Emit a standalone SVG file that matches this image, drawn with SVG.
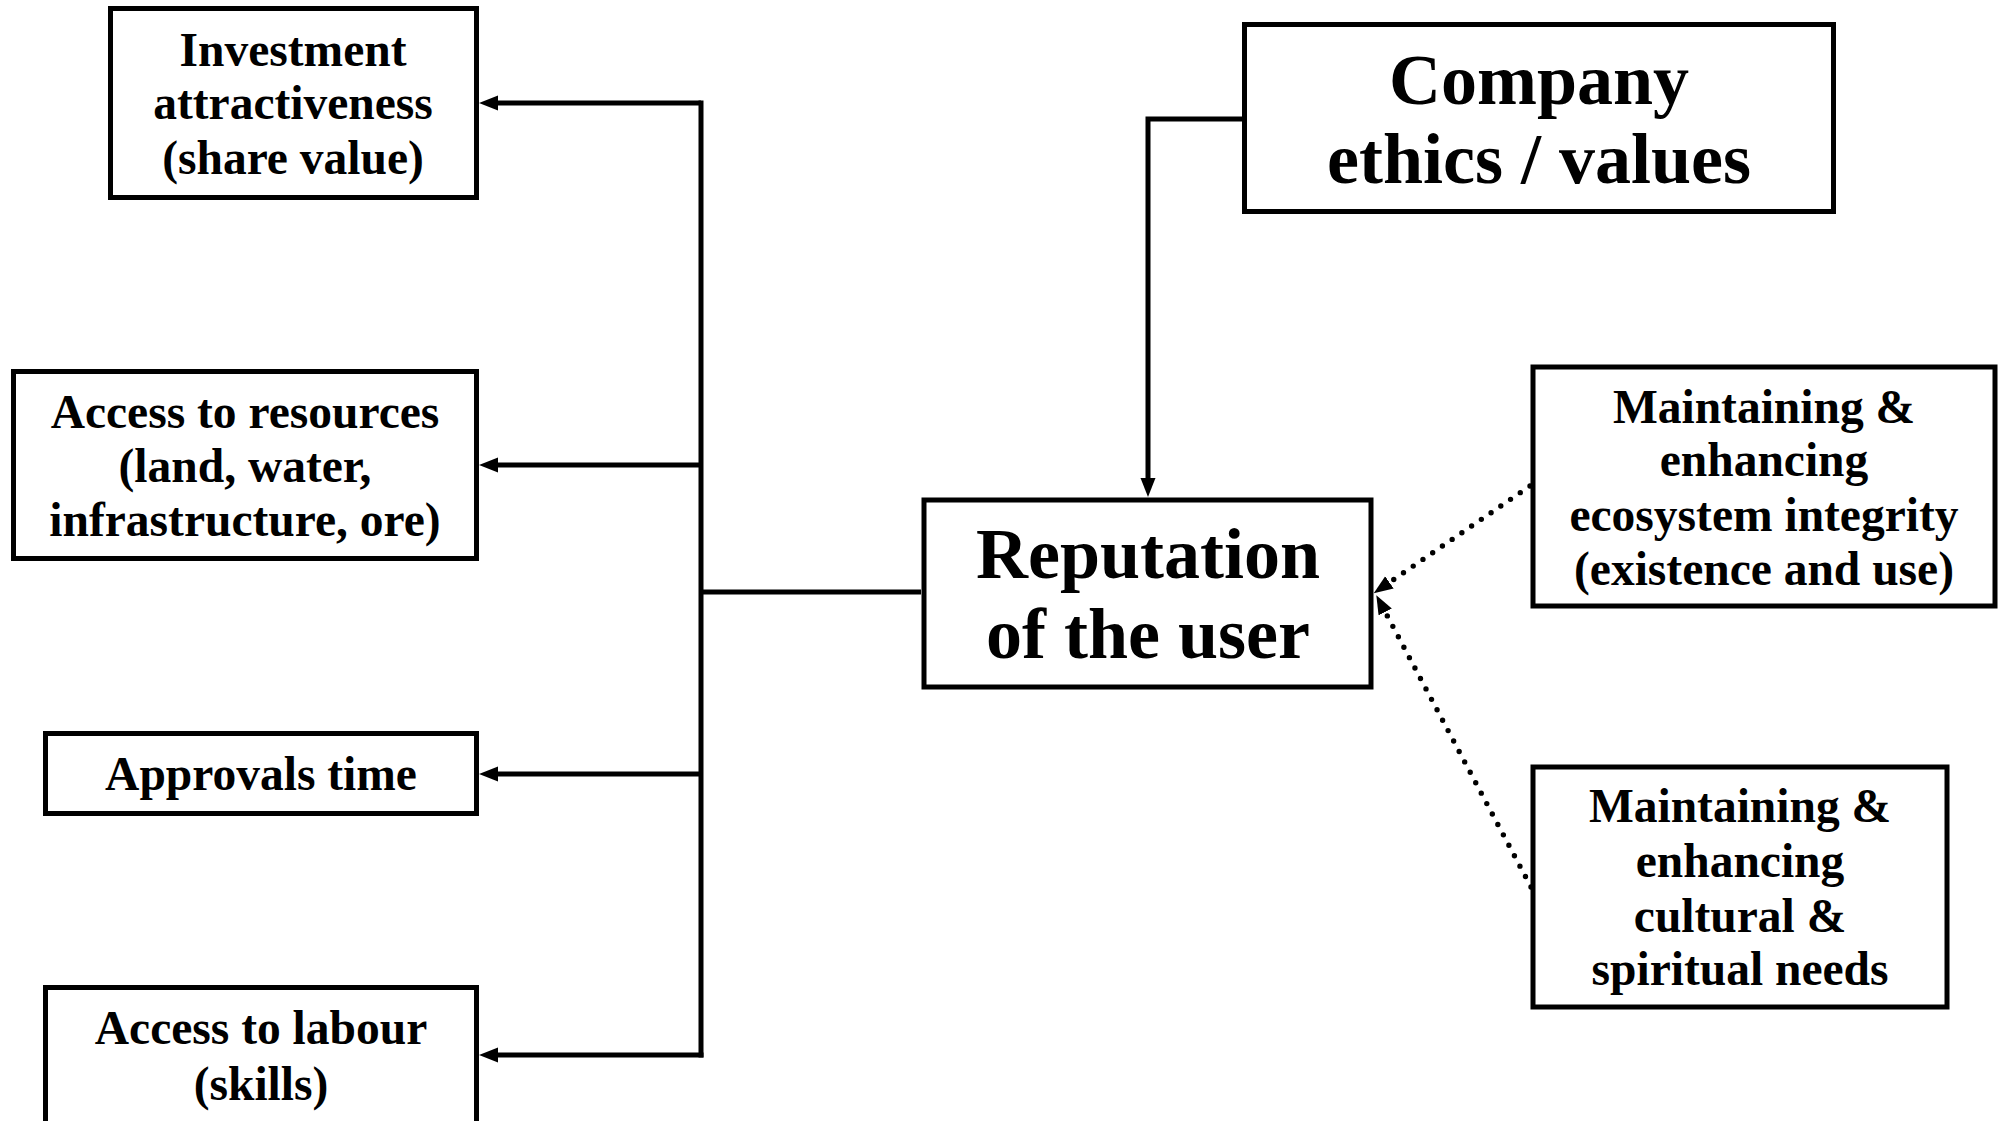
<svg xmlns="http://www.w3.org/2000/svg" width="2000" height="1121" viewBox="0 0 2000 1121">
  <defs>
    <style>
      .box { fill: #ffffff; stroke: #000000; stroke-width: 5; }
      .lbl { font-family: "Liberation Serif", "Times New Roman", serif; font-weight: bold; fill: #000000; text-anchor: middle; }
      .sm { font-size: 47.5px; }
      .lg { font-size: 72px; }
      .link { fill: none; stroke: #000000; stroke-width: 5; }
      .dot { fill: none; stroke: #000000; stroke-width: 5.4; stroke-linecap: round; stroke-dasharray: 0 11.8; }
    </style>
    <marker id="arrow" markerUnits="userSpaceOnUse" markerWidth="19" markerHeight="16" refX="9" refY="8" orient="auto">
      <path d="M0,0.5 L19,8 L0,15.5 Z" fill="#000000"/>
    </marker>
  </defs>

  <rect width="2000" height="1121" fill="#ffffff"/>

  <!-- connectors -->
  <g id="connectors">
    <!-- trunk from the reputation box to the business outcomes -->
    <path class="link" d="M921,592 L701,592"/>
    <path class="link" d="M701,100.5 L701,1057.5"/>
    <path class="link" d="M701,103 L489,103" marker-end="url(#arrow)"/>
    <path class="link" d="M701,465 L489,465" marker-end="url(#arrow)"/>
    <path class="link" d="M701,774 L489,774" marker-end="url(#arrow)"/>
    <path class="link" d="M703.5,1055 L489,1055" marker-end="url(#arrow)"/>
    <!-- ethics feed into reputation -->
    <path class="link" d="M1242,119 L1148,119 L1148,487" marker-end="url(#arrow)"/>
    <!-- dotted influences -->
    <path class="dot" d="M1530,486 L1382,587.5" marker-end="url(#arrow)"/>
    <path class="dot" d="M1531,887 L1381,604" marker-end="url(#arrow)"/>
  </g>

  <g id="node-investment">
    <rect class="box" x="110.5" y="8.5" width="366" height="189"/>
    <text class="lbl sm" x="293" y="66">Investment</text>
    <text class="lbl sm" x="293" y="119">attractiveness</text>
    <text class="lbl sm" x="293" y="174">(share value)</text>
  </g>

  <g id="node-resources">
    <rect class="box" x="13.5" y="371.5" width="463" height="187"/>
    <text class="lbl sm" x="245" y="428">Access to resources</text>
    <text class="lbl sm" x="245" y="482">(land, water,</text>
    <text class="lbl sm" x="245" y="536">infrastructure, ore)</text>
  </g>

  <g id="node-approvals">
    <rect class="box" x="45.5" y="733.5" width="431" height="80"/>
    <text class="lbl sm" x="261" y="790">Approvals time</text>
  </g>

  <g id="node-labour">
    <rect class="box" x="45.5" y="987.5" width="431" height="200"/>
    <text class="lbl sm" x="261" y="1044">Access to labour</text>
    <text class="lbl sm" x="261" y="1100">(skills)</text>
  </g>

  <g id="node-ethics">
    <rect class="box" x="1244.5" y="24.5" width="589" height="187"/>
    <text class="lbl lg" x="1539" y="104">Company</text>
    <text class="lbl lg" x="1539" y="183">ethics / values</text>
  </g>

  <g id="node-reputation">
    <rect class="box" x="924" y="500" width="447" height="187"/>
    <text class="lbl lg" x="1148" y="578">Reputation</text>
    <text class="lbl lg" x="1148" y="658">of the user</text>
  </g>

  <g id="node-ecosystem">
    <rect class="box" x="1533" y="367" width="462" height="239"/>
    <text class="lbl sm" x="1764" y="423">Maintaining &amp;</text>
    <text class="lbl sm" x="1764" y="476">enhancing</text>
    <text class="lbl sm" x="1764" y="531">ecosystem integrity</text>
    <text class="lbl sm" x="1764" y="585">(existence and use)</text>
  </g>

  <g id="node-cultural">
    <rect class="box" x="1533" y="767" width="414" height="240"/>
    <text class="lbl sm" x="1740" y="822">Maintaining &amp;</text>
    <text class="lbl sm" x="1740" y="877">enhancing</text>
    <text class="lbl sm" x="1740" y="932">cultural &amp;</text>
    <text class="lbl sm" x="1740" y="985">spiritual needs</text>
  </g>
</svg>
